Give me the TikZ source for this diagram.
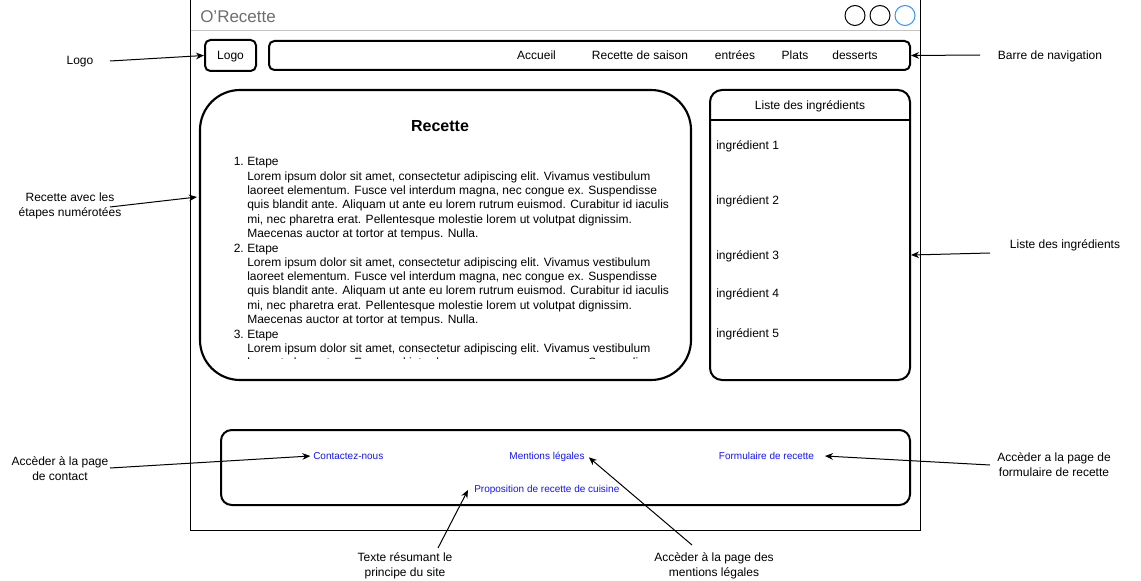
\documentclass[tikz,border=0pt]{standalone}
\usepackage{fontspec}
\setmainfont{Liberation Sans}
\usetikzlibrary{arrows.meta,fit}
\definecolor{linkblue}{RGB}{20,20,245}
\definecolor{titlegray}{RGB}{110,110,110}
\definecolor{sepgray}{RGB}{195,195,195}
\definecolor{btnblue}{RGB}{41,148,255}
\begin{document}
\begin{tikzpicture}[x=0.75pt,y=-0.75pt,
  box/.style={draw, line width=1.5pt, inner sep=0pt},
  t9/.style={font=\fontsize{9}{11}\selectfont, inner sep=0pt, text height=6.6pt, text depth=0.2pt},
  lbl/.style={t9, align=center},
  body/.style={font=\fontsize{9}{11}\selectfont, inner sep=0pt, anchor=base west},
  link/.style={font=\fontsize{7.5}{9}\selectfont, inner sep=0pt, text=linkblue, text height=5.5pt, text depth=0.2pt},
  arr/.style={-{Stealth[length=6pt,width=5pt]}, line width=0.75pt},
  btn/.style={draw, line width=0.75pt, circle, minimum size=15pt, inner sep=0pt}]
\useasboundingbox (0,0) rectangle (1141,581);

% window
\node[fit={(190,0)(920,530)}, draw, line width=0.75pt, inner sep=0pt] (win) {};
\draw[sepgray, line width=0.75pt] (190.5,30.5) -- (919.5,30.5);
\node[font=\fontsize{12.75}{15}\selectfont, text=titlegray, inner sep=0pt, anchor=west, text height=9.3pt, text depth=0.2pt] (title) at (200,16) {O'Recette};
\node[btn] (b1) at (855,15.5) {};
\node[btn] (b2) at (880,15.5) {};
\node[btn, draw=btnblue] (b3) at (905,15.5) {};

% logo and nav bar
\node[box, rounded corners=4pt, fit={(205,40)(256,71)}] (logo) {};
\node[t9] (logoT) at (230.5,55.5) {Logo};
\node[box, rounded corners=4pt, fit={(269,41)(910,70)}] (nav) {};
\node[t9] (n1) at (536.5,55.5) {Accueil};
\node[t9] (n2) at (640,55.5) {Recette de saison};
\node[t9] (n3) at (735,55.5) {entrées};
\node[t9] (n4) at (795,55.5) {Plats};
\node[t9] (n5) at (855,55.5) {desserts};

% recette
\node[box, line width=1.6pt, rounded corners=30pt, fit={(200,90)(691,380)}] (rec) {};
\node[font=\fontsize{12}{14}\selectfont\bfseries, inner sep=0pt, text height=8.8pt, text depth=0.2pt] (recT) at (440,126) {Recette};
\node[body] (k1) at (233.5,166) {1.};
\node[body] (s1) at (247,166) {Etape};
\node[body] (s2) at (247,180.3) {Lorem ipsum dolor sit amet, consectetur adipiscing elit. Vivamus vestibulum};
\node[body] (s3) at (247,194.6) {laoreet elementum. Fusce vel interdum magna, nec congue ex. Suspendisse};
\node[body] (s4) at (247,208.9) {quis blandit ante. Aliquam ut ante eu lorem rutrum euismod. Curabitur id iaculis};
\node[body] (s5) at (247,223.2) {mi, nec pharetra erat. Pellentesque molestie lorem ut volutpat dignissim.};
\node[body] (s6) at (247,237.5) {Maecenas auctor at tortor at tempus. Nulla.};
\node[body] (k2) at (233.5,252) {2.};
\node[body] (s7) at (247,252) {Etape};
\node[body] (s8) at (247,266.3) {Lorem ipsum dolor sit amet, consectetur adipiscing elit. Vivamus vestibulum};
\node[body] (s9) at (247,280.6) {laoreet elementum. Fusce vel interdum magna, nec congue ex. Suspendisse};
\node[body] (s10) at (247,294.9) {quis blandit ante. Aliquam ut ante eu lorem rutrum euismod. Curabitur id iaculis};
\node[body] (s11) at (247,309.2) {mi, nec pharetra erat. Pellentesque molestie lorem ut volutpat dignissim.};
\node[body] (s12) at (247,323.5) {Maecenas auctor at tortor at tempus. Nulla.};
\node[body] (k3) at (233.5,338) {3.};
\node[body] (s13) at (247,338) {Etape};
\node[body] (s14) at (247,352.3) {Lorem ipsum dolor sit amet, consectetur adipiscing elit. Vivamus vestibulum};
\begin{scope}
\clip (230,357) rectangle (690,358.5);
\node[body] (s15) at (247,366.6) {laoreet elementum. Fusce vel interdum magna, nec congue ex. Suspendisse};
\end{scope}

% ingredients
\node[box, rounded corners=9pt, fit={(710,90)(910,380)}] (ingr) {};
\draw[line width=1.5pt] (ingr.west |- 0,120) -- (ingr.east |- 0,120);
\node[t9] (ingT) at (810,105) {Liste des ingrédients};
\node[t9, anchor=west] (i1) at (716,145) {ingrédient 1};
\node[t9, anchor=west] (i2) at (716,200) {ingrédient 2};
\node[t9, anchor=west] (i3) at (716,255) {ingrédient 3};
\node[t9, anchor=west] (i4) at (716,293) {ingrédient 4};
\node[t9, anchor=west] (i5) at (716,333) {ingrédient 5};

% footer
\node[box, rounded corners=8pt, fit={(221,430)(910,505)}] (foot) {};
\node[link, anchor=west] (contact) at (313,456) {Contactez-nous};
\node[link] (ment) at (547,456) {Mentions légales};
\node[link] (form) at (766.5,456) {Formulaire de recette};
\node[link, anchor=west] (prop) at (474,489.3) {Proposition de recette de cuisine};

% annotations
\node[lbl] (logoL) at (80,60) {Logo};
\node[lbl] (recL) at (70,212) {Recette avec les\\étapes numérotées};
\node[lbl] (navL) at (1050,55) {Barre de navigation};
\node[lbl] (ingL) at (1065,244) {Liste des ingrédients};
\node[lbl] (contactL) at (60,476) {Accèder à la page\\de contact};
\node[lbl] (formL) at (1054,472) {Accèder a la page de\\formulaire de recette};
\node[lbl] (txtL) at (405,572) {Texte résumant le\\principe du site};
\node[lbl] (mentL) at (714,572) {Accèder à la page des\\mentions légales};

\coordinate (aLogo) at (110,61);
\coordinate (aRec) at (110,207);
\coordinate (aNav) at (980,55);
\coordinate (aIng) at (990,253);
\coordinate (aCon) at (110,468);
\coordinate (aForm) at (990,465);
\coordinate (aTxt) at (438,548);
\coordinate (aMent) at (692,545);

\draw[arr] (aLogo) -- (logo.west);
\draw[arr] (aRec) -- ([xshift=-1.5pt,yshift=28.5pt]rec.west);
\draw[arr] (aNav) -- (nav.east);
\draw[arr] (aIng) -- ([yshift=-15pt]ingr.east);
\draw[arr] (aCon) -- ([xshift=-2pt]contact.west);
\draw[arr] (aForm) -- ([xshift=8pt]form.east);
\draw[arr] (aTxt) -- ([xshift=-4.5pt,yshift=-0.5pt]prop.west);
\draw[arr] (aMent) -- ([xshift=3pt,yshift=-1pt]ment.east);
\end{tikzpicture}
\end{document}
